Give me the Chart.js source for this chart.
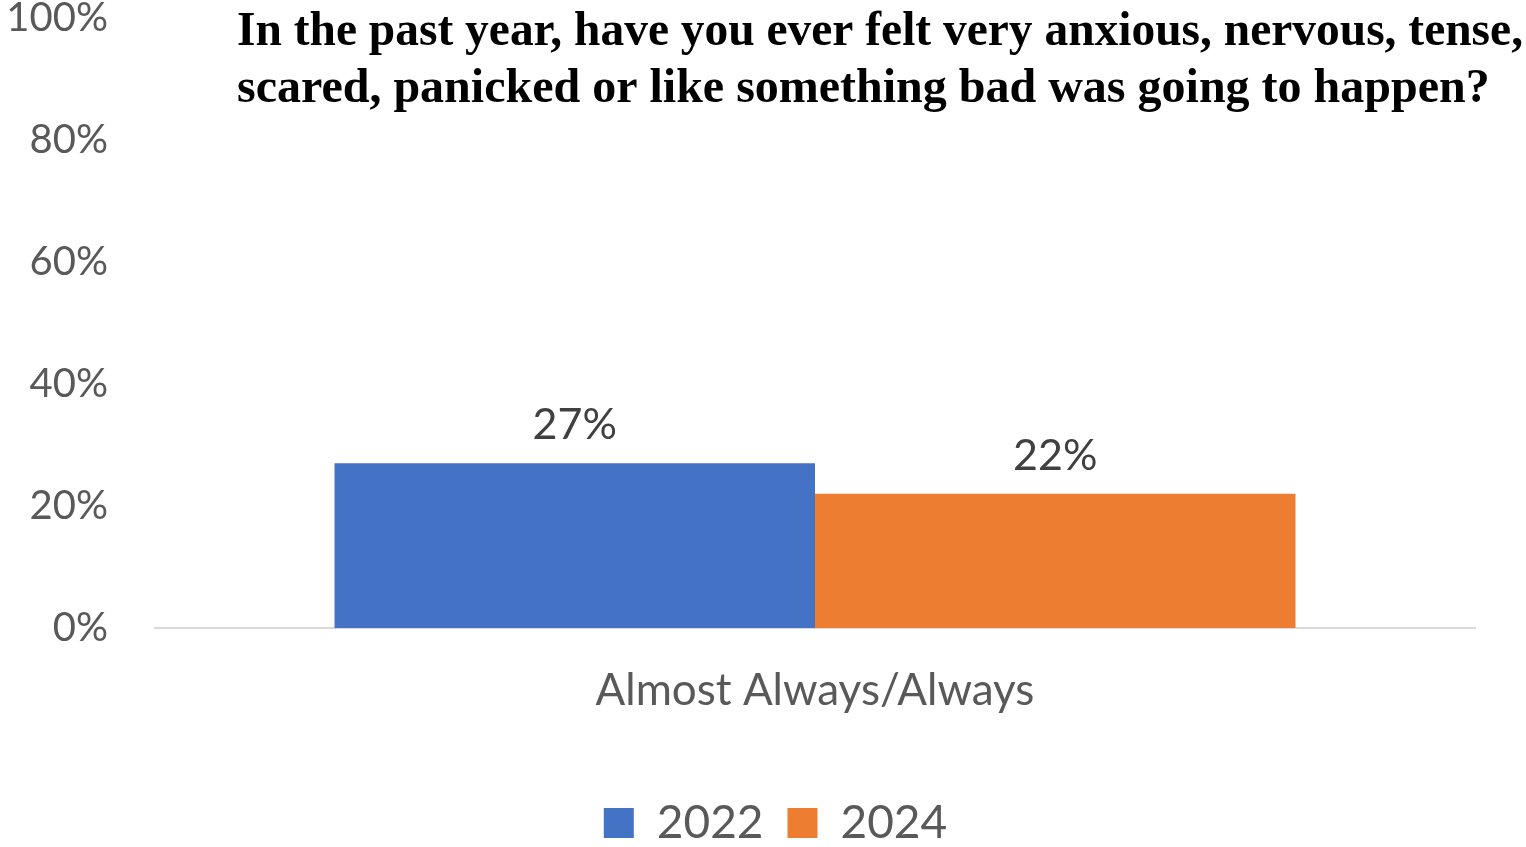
<!DOCTYPE html>
<html>
<head>
<meta charset="utf-8">
<script src="https://cdn.jsdelivr.net/npm/chart.js@4"></script>
<style>
  html, body { margin: 0; padding: 0; background: #fff; }
  #wrap { width: 1526px; height: 847px; }
</style>
</head>
<body>
<div id="wrap"><canvas id="chart" width="1526" height="847"></canvas></div>
<script>
// Survey result, share answering "Almost Always/Always"
const categories = ['Almost Always/Always'];
const years = ['2022', '2024'];
const values2022 = [27];
const values2024 = [22];
const yTicks = [0, 20, 40, 60, 80, 100];
const titleLines = [
  'In the past year, have you ever felt very anxious, nervous, tense,',
  'scared, panicked or like something bad was going to happen?'
];

const sansFont = "Lato, 'Open Sans', sans-serif";

// Question text drawn across the top of the plot
const titlePlugin = {
  id: 'questionTitle',
  afterDraw(chart) {
    const ctx = chart.ctx;
    ctx.save();
    ctx.fillStyle = '#000';
    ctx.textAlign = 'left';
    ctx.textBaseline = 'alphabetic';
    ctx.font = "bold 48px 'Liberation Serif', serif";
    ctx.fillText(titleLines[0], 237, 45, 1286);
    ctx.fillText(titleLines[1], 237, 102, 1254);
    ctx.restore();
  }
};

// Value labels sitting above each bar
const valueLabels = {
  id: 'valueLabels',
  afterDatasetsDraw(chart) {
    const ctx = chart.ctx;
    ctx.save();
    ctx.fillStyle = '#404040';
    ctx.font = '43px ' + sansFont;
    ctx.textAlign = 'center';
    ctx.textBaseline = 'alphabetic';
    chart.data.datasets.forEach((ds, i) => {
      chart.getDatasetMeta(i).data.forEach((bar, j) => {
        ctx.fillText(ds.data[j] + '%', bar.x, bar.y - 24);
      });
    });
    ctx.restore();
  }
};

// Legend sits a little right of the canvas centre
const legendOffset = {
  id: 'legendOffset',
  afterLayout(chart) {
    chart.legend.left += 38;
    chart.legend.right += 38;
  }
};

new Chart(document.getElementById('chart'), {
  type: 'bar',
  data: {
    labels: categories,
    datasets: [
      { label: years[0], data: values2022, backgroundColor: '#4472C4', categoryPercentage: 0.728, barPercentage: 1.0 },
      { label: years[1], data: values2024, backgroundColor: '#ED7D31', categoryPercentage: 0.728, barPercentage: 1.0 }
    ]
  },
  options: {
    responsive: false,
    animation: false,
    layout: { padding: { top: 18, right: 51, left: 0, bottom: 0 } },
    plugins: {
      legend: {
        position: 'bottom',
        maxHeight: 71,
        labels: {
          color: '#595959',
          font: { size: 46, family: sansFont },
          boxWidth: 30,
          boxHeight: 30,
          padding: 24
        }
      },
      tooltip: { enabled: false }
    },
    scales: {
      y: {
        min: 0,
        max: 100,
        afterBuildTicks(scale) {
          scale.ticks = yTicks.map(v => ({ value: v }));
        },
        afterFit(scale) {
          // fixed axis width; top label may overhang the canvas edge
          scale.width = 155;
          scale.paddingTop = 0;
          scale.paddingBottom = 0;
        },
        grid: { display: false, drawTicks: false },
        border: { display: false },
        ticks: {
          color: '#595959',
          font: { size: 40, family: sansFont },
          padding: 47,
          callback: v => v + '%'
        }
      },
      x: {
        afterFit(scale) { scale.height = 148; },
        grid: { display: false, drawTicks: false },
        border: { display: true, color: '#d9d9d9', width: 2 },
        ticks: {
          color: '#595959',
          font: { size: 44, family: sansFont },
          padding: 36
        }
      }
    }
  },
  plugins: [titlePlugin, valueLabels, legendOffset]
});
</script>
</body>
</html>
